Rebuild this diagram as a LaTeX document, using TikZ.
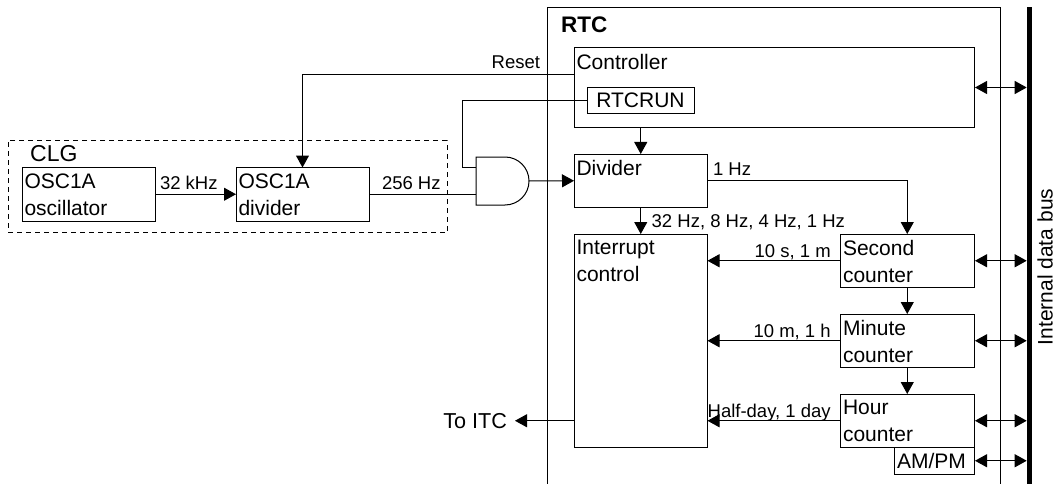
\documentclass[tikz,border=0pt]{standalone}
\usepackage{fontspec}
\setmainfont{Liberation Sans}
\usetikzlibrary{arrows.meta,calc}
\tikzset{
  lw/.style={line width=1pt,line cap=butt},
  box/.style={draw,lw,rectangle,inner sep=0pt,outer sep=0pt,anchor=north west},
  big/.style={font=\fontsize{21}{27}\selectfont,inner sep=0pt,outer sep=0pt},
  small/.style={font=\fontsize{18.5}{24}\selectfont,inner sep=0pt,outer sep=0pt},
  boxtext/.style={big,align=left,anchor=north west,xshift=2.5pt,yshift=-6.5pt},
  conn/.style={lw},
  arr/.style={lw,-{Triangle[length=12pt,width=13pt]}},
  darr/.style={lw,{Triangle[length=12pt,width=13pt]}-{Triangle[length=12pt,width=13pt]},shorten <=1pt,shorten >=0.5pt},
}
\begin{document}
\begin{tikzpicture}[x=1pt,y=-1pt]
\useasboundingbox (0,0) rectangle (1057,484);
% RTC frame and CLG frame
\draw[lw] (547,484) -- (547,7.5) -- (1000.5,7.5) -- (1000.5,484);
\node[anchor=base west,inner sep=0pt,font=\fontsize{22.5}{27}\selectfont\bfseries] (rtc) at (561,32.7) {RTC};
\node[box,dashed,dash pattern=on 5pt off 4pt,line width=0.9pt,minimum width=439pt,minimum height=92pt] (clg) at (8,140.5) {};
\node[anchor=base west,inner sep=0pt,font=\fontsize{23}{27}\selectfont] (clgt) at (30,161.7) {CLG};
% Bus
\node[draw=none,fill=black,rectangle,inner sep=0pt,outer sep=0pt,minimum width=5pt,minimum height=476.5pt,anchor=north west] (bus) at (1027.2,7.5) {};
\node[big,rotate=90] (bust) at (1045,267) {Internal data bus};
% Boxes
\node[box,minimum width=133.5pt,minimum height=53.5pt] (osc) at (22,167.5) {};
\node[boxtext] at (osc.north west) {OSC1A\\oscillator};
\node[box,minimum width=133pt,minimum height=53.5pt] (odiv) at (236,167.5) {};
\node[boxtext] at (odiv.north west) {OSC1A\\divider};
\node[box,minimum width=400pt,minimum height=80pt] (ctrl) at (574,47.5) {};
\node[boxtext] at (ctrl.north west) {Controller};
\node[box,big,minimum width=107pt,minimum height=26pt,anchor=north west] (run) at (587,87.5) {RTCRUN};
\node[box,minimum width=133.5pt,minimum height=53.5pt] (div) at (574,154) {};
\node[boxtext] at (div.north west) {Divider};
\node[box,minimum width=133.5pt,minimum height=213.5pt] (intr) at (574,234) {};
\node[boxtext] at (intr.north west) {Interrupt\\control};
\node[box,minimum width=133.5pt,minimum height=53.5pt] (sec) at (840.5,234) {};
\node[boxtext] at (sec.north west) {Second\\counter};
\node[box,minimum width=133.5pt,minimum height=53.5pt] (min) at (840.5,314) {};
\node[boxtext] at (min.north west) {Minute\\counter};
\node[box,minimum width=133.5pt,minimum height=53.5pt] (hour) at (840.5,394) {};
\node[boxtext] at (hour.north west) {Hour\\counter};
\node[box,big,minimum width=80pt,minimum height=26.5pt,anchor=north west] (ampm) at (894,447.5) {AM/PM\kern5pt};
% AND gate
\node[rectangle,inner sep=0pt,outer sep=0pt,minimum width=53pt,minimum height=48pt,anchor=north west] (gate) at (476,157) {};
\draw[lw] (gate.north west) -- ($(gate.north west)+(29,0)$) arc[start angle=90,end angle=-90,radius=24pt] -- (gate.south west) -- cycle;
\coordinate (in1) at (gate.west |- 0,167.5);
\coordinate (in2) at (gate.west |- osc.east);
% Connectors
\draw[arr] (osc.east) -- (odiv.west);
\draw[conn] (odiv.east) -- (in2);
\draw[arr] (gate.east) -- (div.west);
\draw[conn] (run.west) -- ($(run.west)+(-125,0)$) |- (in1);
\coordinate (rs) at ($(ctrl.north west)+(0,27)$);
\draw[arr] (rs) -| (odiv.north);
\draw[arr] (div.north |- ctrl.south) -- (div.north);
\draw[arr] (div.south) -- (intr.north);
\draw[arr] (div.east) -| (sec.north);
\draw[arr] (sec.west) -- (sec.west -| intr.east);
\draw[arr] (min.west) -- (min.west -| intr.east);
\draw[arr] (hour.west) -- (hour.west -| intr.east);
\draw[arr] (sec.south) -- (min.north);
\draw[arr] (min.south) -- (hour.north);
\draw[darr] (ctrl.east) -- (ctrl.east -| bus.west);
\draw[darr] (sec.east) -- (sec.east -| bus.west);
\draw[darr] (min.east) -- (min.east -| bus.west);
\draw[darr] (hour.east) -- (hour.east -| bus.west);
\draw[darr] (ampm.east) -- (ampm.east -| bus.west);
\node[anchor=base east,inner sep=0pt,outer sep=0pt,font=\fontsize{21.6}{27}\selectfont] (itc) at (507,428) {To ITC};
\coordinate (itcend) at ($(itc.east)+(8,0)$);
\draw[arr] (hour.west -| intr.west) -- (hour.west -| itcend);
% Labels
\node[small,anchor=base east] (l1) at (540,69) {Reset};
\node[small,anchor=base west] (l2) at (160,189) {32 kHz};
\node[small,anchor=base west] (l3) at (382,189) {256 Hz};
\node[small,anchor=base west] (l4) at (713,175.7) {1 Hz};
\node[small,anchor=base west] (l5) at (651.7,227) {32 Hz, 8 Hz, 4 Hz, 1 Hz};
\node[small,anchor=base east] (l6) at (830.7,257) {10 s, 1 m};
\node[small,anchor=base east] (l7) at (830.7,337) {10 m, 1 h};
\node[small,anchor=base east] (l8) at (830.7,417) {Half-day, 1 day};
\end{tikzpicture}
\end{document}
